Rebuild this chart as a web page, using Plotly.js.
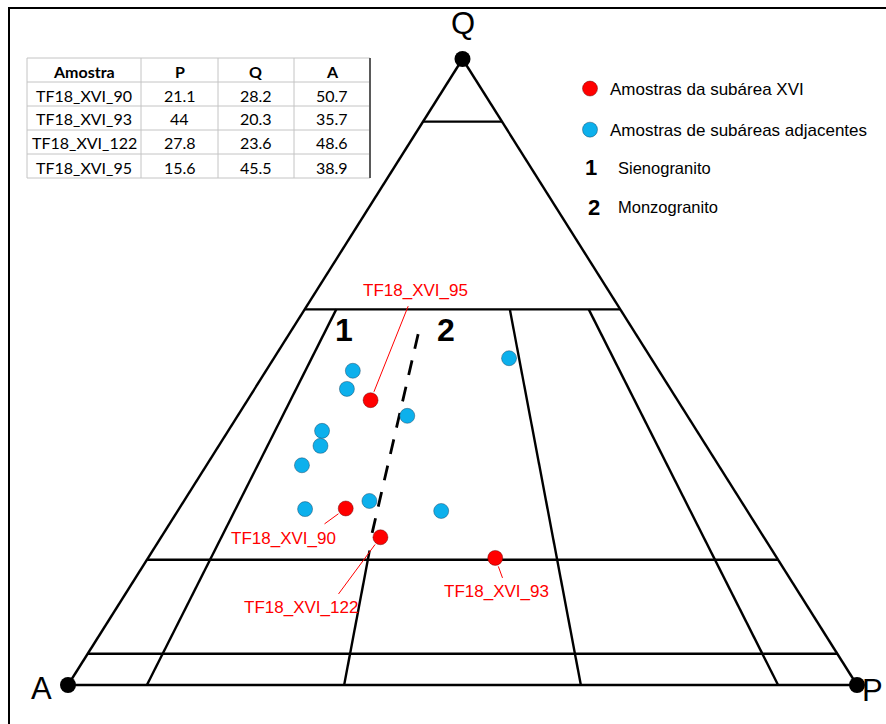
<!DOCTYPE html>
<html>
<head>
<meta charset="utf-8">
<script src="https://cdn.plot.ly/plotly-3.0.1.min.js"></script>
<style>
  html, body { margin: 0; padding: 0; background: #ffffff; }
  #chart { width: 886px; height: 724px; }
</style>
</head>
<body>
<div id="chart"></div>
<script>
// Samples of subarea XVI (modal %, Q + A + P = 100)
const sampleNames = ['TF18_XVI_90', 'TF18_XVI_93', 'TF18_XVI_122', 'TF18_XVI_95'];
const sampleP = [21.1, 44, 27.8, 15.6];
const sampleQ = [28.2, 20.3, 23.6, 45.5];
const sampleA = [50.7, 35.7, 48.6, 38.9];

// Samples from the adjacent subareas
const adjQ = [50.2, 47.3, 43.0, 52.2, 40.6, 38.2, 35.1, 28.1, 29.4, 27.8];
const adjP = [11.0, 11.7, 21.5, 29.8, 11.9, 12.9, 12.1, 16.0, 23.5, 33.4];
const adjA = [38.8, 41.0, 35.5, 18.0, 47.5, 48.9, 52.8, 55.9, 47.1, 38.8];

// Table header
const tableHeader = ['Amostra', 'P', 'Q', 'A'];

// Streckeisen QAP field boundaries
const qCuts = [90, 60, 20, 5];        // constant-Q lines
const ratioCuts = [10, 65, 90];       // 100·P/(A+P), from Q = 60 down to the A–P side
const ratio35 = 35;                    // syeno-/monzogranite boundary
const ratio35SolidTop = 21.5;          // Q where the solid part of that line stops
const dashedA = [49.3, 26.4];          // dashed boundary between fields 1 and 2
const dashedQ = [24.3, 57.8];
const dashedP = [26.4, 15.8];

// Apices
const apexNames = ['A', 'P', 'Q'];
const apexA = [100, 0, 0];
const apexQ = [0, 0, 100];
const apexP = [0, 100, 0];

// Field key
const fieldNumbers = ['1', '2'];
const fieldNames = ['Sienogranito', 'Monzogranito'];

// ternary (A, Q, P) -> plane; A at (0,0), P at (1,0), Q at (0.5,1)
function tx(a, q, p) { const s = a + q + p; return (p + q / 2) / s; }
function ty(a, q, p) { const s = a + q + p; return q / s; }
function mapX(A, Q, P) { return A.map((a, i) => tx(a, Q[i], P[i])); }
function mapY(A, Q, P) { return A.map((a, i) => ty(a, Q[i], P[i])); }

// boundary segments as [A,Q,P] pairs
const segments = [];
segments.push([[100, 0, 0], [0, 0, 100]]);
segments.push([[0, 0, 100], [0, 100, 0]]);
segments.push([[0, 100, 0], [100, 0, 0]]);
qCuts.forEach(q => segments.push([[100 - q, q, 0], [0, q, 100 - q]]));
ratioCuts.forEach(r => segments.push([
  [40 * (1 - r / 100), 60, 40 * r / 100],
  [100 - r, 0, r]
]));
segments.push([
  [(100 - ratio35SolidTop) * (1 - ratio35 / 100), ratio35SolidTop, (100 - ratio35SolidTop) * ratio35 / 100],
  [100 - ratio35, 0, ratio35]
]);

const frameX = [], frameY = [];
segments.forEach(s => {
  s.forEach(pt => { frameX.push(tx(pt[0], pt[1], pt[2])); frameY.push(ty(pt[0], pt[1], pt[2])); });
  frameX.push(null); frameY.push(null);
});

const W = 886, H = 724;
const px = v => v / W;
const py = v => 1 - v / H;

const LABEL_FONT = 'Liberation Sans, Arial, sans-serif';
const TABLE_FONT = 'Lato, sans-serif';

const traces = [
  {
    type: 'scatter', mode: 'lines', x: frameX, y: frameY,
    line: { color: '#000000', width: 2.4 }, hoverinfo: 'skip', showlegend: false
  },
  {
    type: 'scatter', mode: 'lines',
    x: mapX(dashedA, dashedQ, dashedP), y: mapY(dashedA, dashedQ, dashedP),
    line: { color: '#000000', width: 2.8, dash: '15px,12px' }, hoverinfo: 'skip', showlegend: false
  },
  {
    type: 'scatter', mode: 'markers',
    x: mapX(apexA, apexQ, apexP), y: mapY(apexA, apexQ, apexP), text: apexNames,
    marker: { color: '#000000', size: 16 }, hoverinfo: 'skip', showlegend: false, cliponaxis: false
  },
  {
    type: 'scatter', mode: 'markers', name: 'Amostras de subáreas adjacentes',
    legendgroup: 'adj', legendrank: 2,
    x: mapX(adjA, adjQ, adjP), y: mapY(adjA, adjQ, adjP),
    marker: { color: '#0DB0EC', size: 15, line: { color: 'rgba(20,60,90,0.55)', width: 0.8 } }
  },
  {
    type: 'scatter', mode: 'markers', name: 'Amostras da subárea XVI',
    legendgroup: 'xvi', legendrank: 1,
    x: mapX(sampleA, sampleQ, sampleP), y: mapY(sampleA, sampleQ, sampleP), text: sampleNames,
    marker: { color: '#FF0000', size: 15, line: { color: 'rgba(90,0,0,0.55)', width: 0.8 } }
  }
];

const annotations = [];
const shapes = [];

// outer frame
shapes.push({ type: 'rect', xref: 'paper', yref: 'paper', x0: px(9), x1: 1.2, y0: -0.2, y1: py(8),
  line: { color: '#000', width: 2 }, fillcolor: 'rgba(0,0,0,0)' });

// data table in the upper-left corner
const colEdges = [27, 141, 218, 294, 370];
const rowEdges = [58, 82, 106, 130, 154, 178];
rowEdges.forEach(yv => shapes.push({ type: 'line', xref: 'paper', yref: 'paper',
  x0: px(colEdges[0]), x1: px(colEdges[colEdges.length - 1]), y0: py(yv), y1: py(yv),
  line: { color: '#c4c4c4', width: 1 } }));
colEdges.forEach((xv, i) => shapes.push({ type: 'line', xref: 'paper', yref: 'paper',
  x0: px(xv), x1: px(xv), y0: py(rowEdges[0]), y1: py(rowEdges[rowEdges.length - 1]),
  line: i === colEdges.length - 1 ? { color: '#5a5a5a', width: 2 } : { color: '#c4c4c4', width: 1 } }));

const tableRows = [tableHeader.map(h => '<b>' + h + '</b>')];
sampleNames.forEach((n, i) => tableRows.push([n, String(sampleP[i]), String(sampleQ[i]), String(sampleA[i])]));
tableRows.forEach((row, r) => {
  row.forEach((val, c) => {
    annotations.push({
      xref: 'paper', yref: 'paper', xanchor: 'center', yanchor: 'middle', showarrow: false,
      x: px((colEdges[c] + colEdges[c + 1]) / 2), y: py((rowEdges[r] + rowEdges[r + 1]) / 2 + 1),
      text: val, font: { family: TABLE_FONT, size: 16, color: '#000' }
    });
  });
});

// sample labels and their leader lines (pixel offsets from each point)
const labelShift = [[-62.7, -30.5], [1.5, -34], [-79.4, -70.7], [45.4, 110]];
const leaderTail = [[-22.7, 16.5], [8, 22], [-43.4, 58.7], [38.4, -96]];

const sx = mapX(sampleA, sampleQ, sampleP);
const sy = mapY(sampleA, sampleQ, sampleP);
sampleNames.forEach((name, i) => {
  annotations.push({
    x: sx[i], y: sy[i], xref: 'x', yref: 'y', text: name, showarrow: false,
    xanchor: 'center', yanchor: 'middle',
    xshift: labelShift[i][0], yshift: labelShift[i][1],
    font: { family: LABEL_FONT, size: 17, color: '#FF0000' }
  });
  annotations.push({
    x: sx[i], y: sy[i], xref: 'x', yref: 'y', text: ' ', showarrow: true,
    arrowhead: 0, arrowwidth: 1, arrowcolor: '#FF0000', standoff: 9,
    ax: leaderTail[i][0], ay: leaderTail[i][1], font: { size: 1 }
  });
});

// apex letters
const ax0 = mapX(apexA, apexQ, apexP), ay0 = mapY(apexA, apexQ, apexP);
annotations.push({ x: ax0[0], y: ay0[0], text: apexNames[0], showarrow: false, xanchor: 'center', yanchor: 'middle',
  xshift: -27, yshift: -3, font: { family: LABEL_FONT, size: 31, color: '#000' } });
annotations.push({ x: ax0[1], y: ay0[1], text: apexNames[1], showarrow: false, xanchor: 'left', yanchor: 'middle',
  xshift: 3, yshift: -5, font: { family: LABEL_FONT, size: 31, color: '#000' } });
annotations.push({ x: ax0[2], y: ay0[2], text: apexNames[2], showarrow: false, xanchor: 'center', yanchor: 'middle',
  yshift: 36, font: { family: LABEL_FONT, size: 31, color: '#000' } });

// field numbers inside the diagram
const fieldLabelX = [344, 446];
fieldNumbers.forEach((k, i) => annotations.push({ xref: 'paper', yref: 'paper', x: px(fieldLabelX[i]), y: py(330),
  xanchor: 'center', yanchor: 'middle', text: '<b>' + k + '</b>', showarrow: false,
  font: { family: LABEL_FONT, size: 32, color: '#000' } }));

// key for the field numbers
const keyY = [168, 207];
const keyX = [591, 594];
fieldNumbers.forEach((k, i) => {
  annotations.push({ xref: 'paper', yref: 'paper', x: px(keyX[i]), y: py(keyY[i]),
    xanchor: 'center', yanchor: 'middle', text: '<b>' + k + '</b>',
    showarrow: false, font: { family: LABEL_FONT, size: 22, color: '#000' } });
  annotations.push({ xref: 'paper', yref: 'paper', x: px(616), y: py(keyY[i]),
    xanchor: 'left', yanchor: 'middle',
    text: fieldNames[i], showarrow: false, font: { family: LABEL_FONT, size: 16.5, color: '#000' } });
});

const layout = {
  width: W, height: H,
  margin: { l: 0, r: 0, t: 0, b: 0 },
  paper_bgcolor: '#ffffff', plot_bgcolor: '#ffffff',
  xaxis: { range: [-68 / 789, 818 / 789], visible: false, fixedrange: true },
  yaxis: { range: [-39 / 626, 685 / 626], visible: false, fixedrange: true },
  showlegend: true,
  legend: {
    x: px(570), y: py(71), xanchor: 'left', yanchor: 'top',
    bgcolor: 'rgba(0,0,0,0)', borderwidth: 0,
    tracegroupgap: 16,
    font: { family: LABEL_FONT, size: 17, color: '#000' }
  },
  annotations: annotations,
  shapes: shapes
};

Plotly.newPlot('chart', traces, layout, { staticPlot: true, displayModeBar: false });
</script>
</body>
</html>
